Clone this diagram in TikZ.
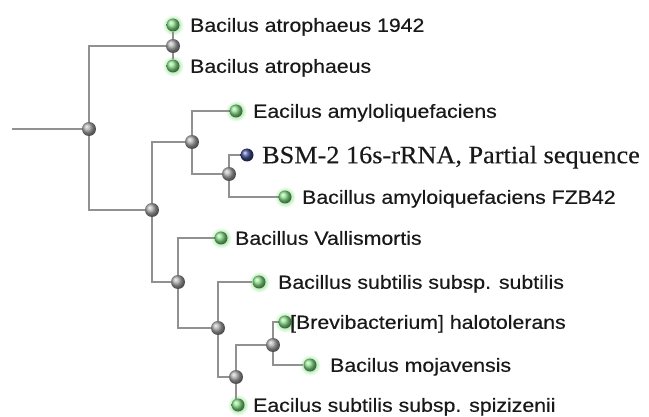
\documentclass[tikz,border=0pt]{standalone}
\usepackage{fontspec}
\newfontfamily\lblfont[FakeStretch=1.12,FakeBold=0.4]{Liberation Sans}
\newfontfamily\seqfont[FakeStretch=1.05,FakeBold=0.3]{Liberation Serif}
\usetikzlibrary{backgrounds}
\definecolor{leafgreen}{RGB}{135,220,135}
\definecolor{glowgreen}{RGB}{175,238,175}
\definecolor{querynavy}{RGB}{60,72,140}
\definecolor{branchgray}{RGB}{145,145,145}
\definecolor{labelgray}{RGB}{25,25,25}
% soft halo that fades to white well inside the filled circle
\pgfdeclareradialshading{leafglow}{\pgfpoint{0bp}{0bp}}{%
  color(0bp)=(glowgreen); color(13bp)=(glowgreen);
  color(24bp)=(white); color(50bp)=(white)}
\begin{document}
\begin{tikzpicture}[x=1pt,y=-1pt,
  branch/.style={draw=branchgray, line width=1.3pt},
  split/.style={circle, minimum size=14pt, inner sep=0pt, shading=ball, ball color=black!35},
  leaf/.style={circle, minimum size=13pt, inner sep=0pt, shading=ball, ball color=leafgreen},
  query/.style={circle, minimum size=13pt, inner sep=0pt, shading=ball, ball color=querynavy},
  glow/.style={shading=leafglow},
  lbl/.style={anchor=west, inner sep=0pt, text height=13.6pt, text depth=0pt,
    text=labelgray, font=\lblfont\fontsize{19}{19}\selectfont},
  seqlbl/.style={anchor=west, inner sep=0pt, text height=16.5pt, text depth=0pt,
    text=labelgray, font=\seqfont\fontsize{25}{25}\selectfont}]
\useasboundingbox (0,0) rectangle (649,417);

% internal (split) nodes
\coordinate (start) at (12,129);
\node[split] (r) at (89,129) {};
\node[split] (a) at (173,46) {};
\node[split] (b) at (152,210) {};
\node[split] (c) at (192,142) {};
\node[split] (e) at (229,174) {};
\node[split] (d) at (178,282) {};
\node[split] (f) at (218,328) {};
\node[split] (g) at (236,377) {};
\node[split] (h) at (273,345) {};

% leaves
\node[leaf] (l1) at (173,25) {};
\node[leaf] (l2) at (173,66) {};
\node[leaf] (l3) at (236,111) {};
\node[query] (l4) at (247,155) {};
\node[leaf] (l5) at (285,197) {};
\node[leaf] (l6) at (221,238) {};
\node[leaf] (l7) at (259,282) {};
\node[leaf] (l8) at (285,322) {};
\node[leaf] (l9) at (310,365) {};
\node[leaf] (l10) at (238,405) {};

% taxon labels
\node[lbl] (t1) at (190,25) {Bacilus atrophaeus 1942};
\node[lbl] (t2) at (190,66) {Bacilus atrophaeus};
\node[lbl] (t3) at (253,111) {Eacilus amyloliquefaciens};
\node[seqlbl] (t4) at (262,155) {BSM-2 16s-rRNA, Partial sequence};
\node[lbl] (t5) at (302,197) {Bacillus amyloiquefaciens FZB42};
\node[lbl] (t6) at (235,238) {Bacillus Vallismortis};
\node[lbl] (t7) at (278,282) {Bacillus subtilis subsp. subtilis};
\node[lbl] (t8) at (290,322) {[Brevibacterium] halotolerans};
\node[lbl] (t9) at (330,365) {Bacilus mojavensis};
\node[lbl] (t10) at (253,405) {Eacilus subtilis subsp. spizizenii};

\begin{scope}[on background layer]
  % soft glow round the green leaves
  \foreach \n in {l1,l2,l3,l5,l6,l7,l8,l9,l10}
    \shade[glow] (\n) circle (11pt);
  % branches
  \draw[branch] (start) -- (r);
  \draw[branch] (r) |- (a);
  \draw[branch] (r) |- (b);
  \draw[branch] (a) -- (l1);
  \draw[branch] (a) -- (l2);
  \draw[branch] (b) |- (c);
  \draw[branch] (b) |- (d);
  \draw[branch] (c) |- (l3);
  \draw[branch] (c) |- (e);
  \draw[branch] (e) |- (l4);
  \draw[branch] (e) |- (l5);
  \draw[branch] (d) |- (l6);
  \draw[branch] (d) |- (f);
  \draw[branch] (f) |- (l7);
  \draw[branch] (f) |- (g);
  \draw[branch] (g) |- (h);
  \draw[branch] (g) |- (l10);
  \draw[branch] (h) |- (l8);
  \draw[branch] (h) |- (l9);
\end{scope}
\end{tikzpicture}
\end{document}
